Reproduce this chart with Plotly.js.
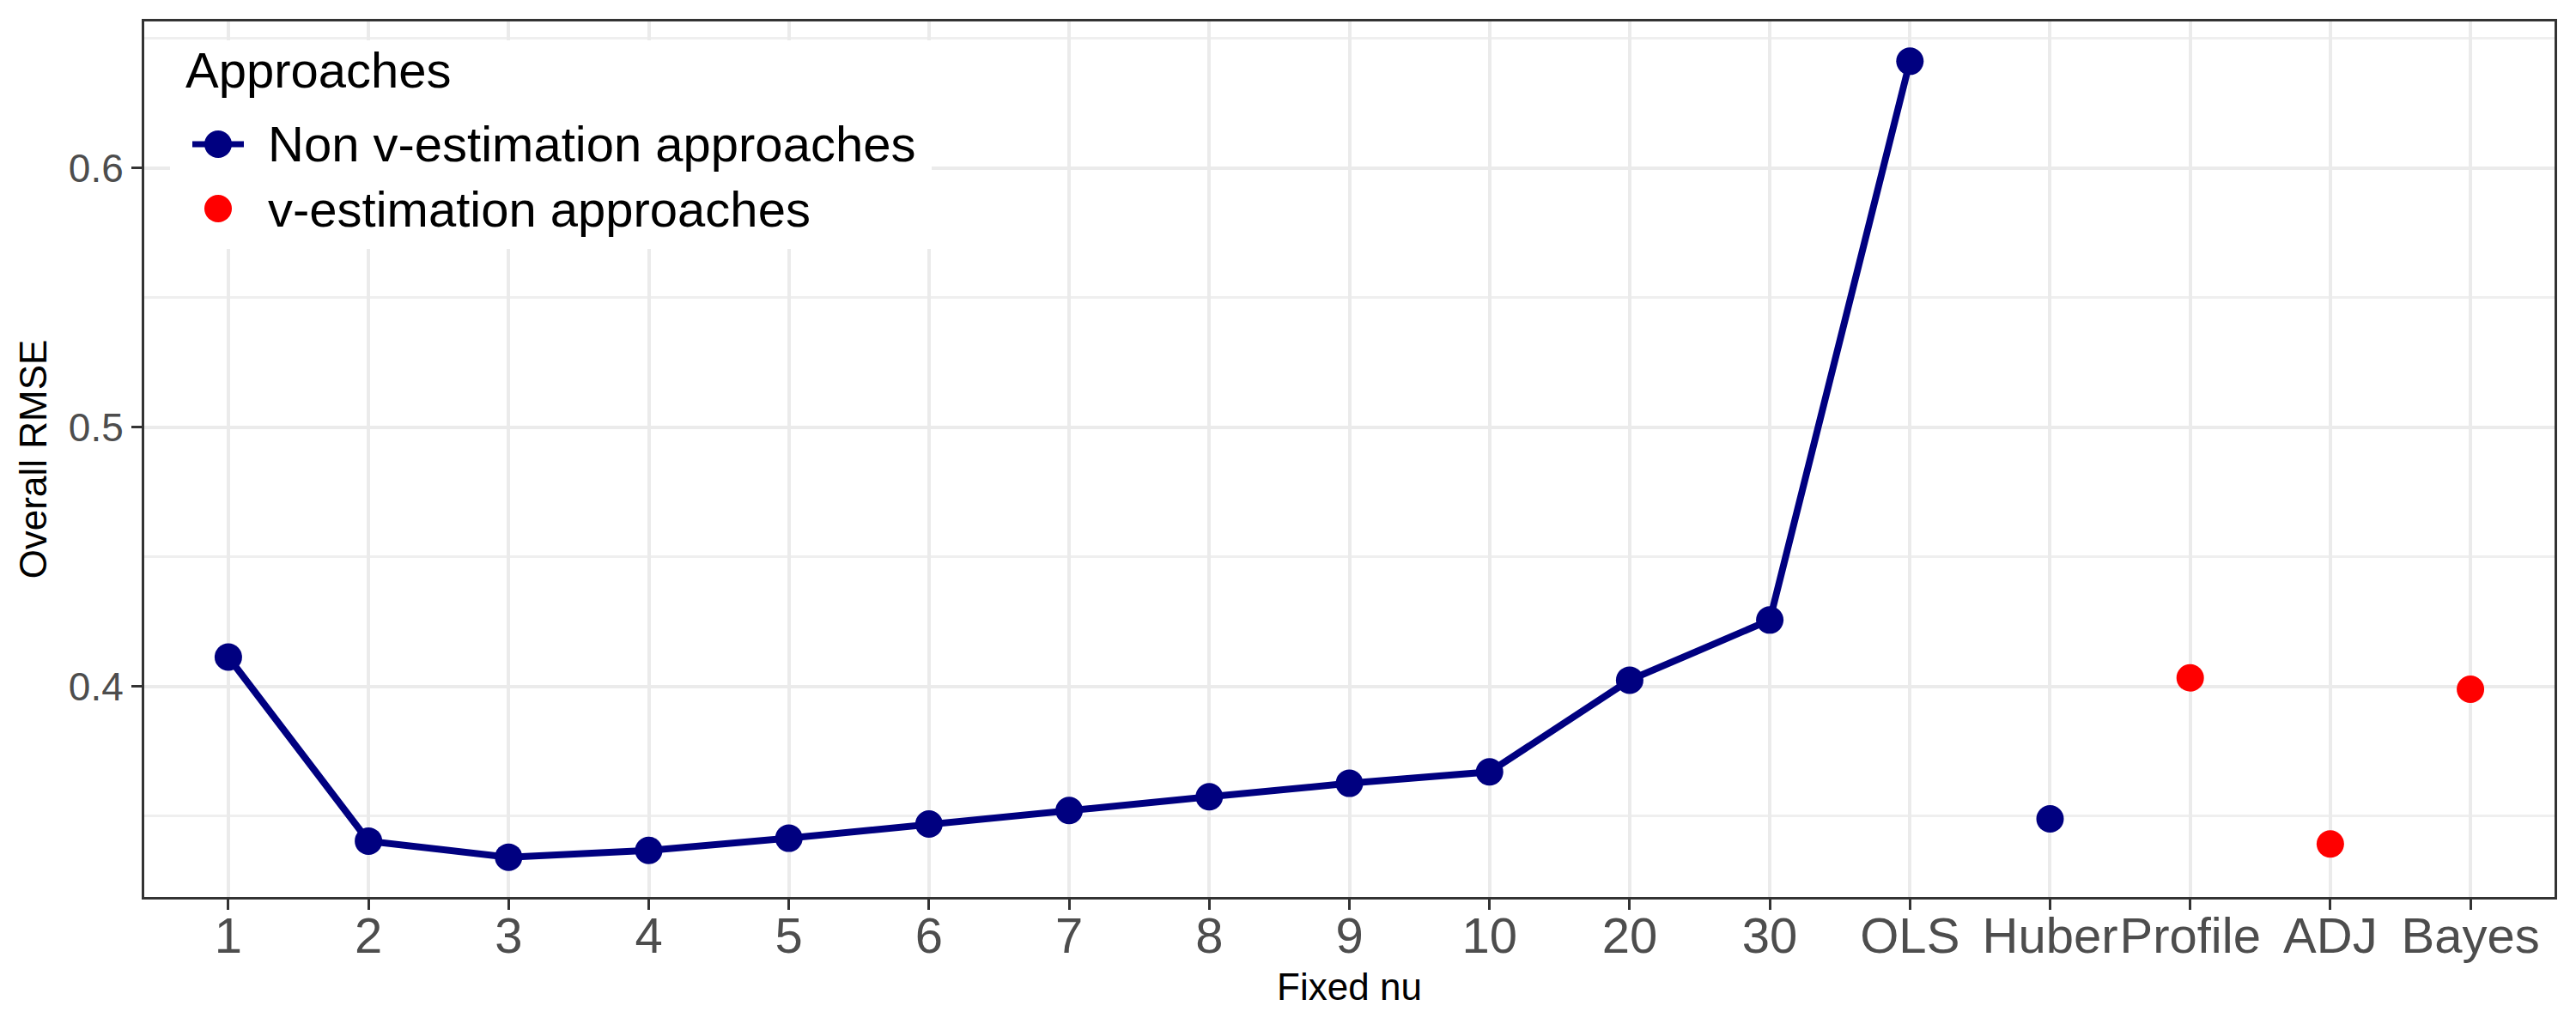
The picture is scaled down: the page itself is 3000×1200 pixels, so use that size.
<!DOCTYPE html>
<html>
<head>
<meta charset="utf-8">
<script src="https://cdn.plot.ly/plotly-3.0.1.min.js"></script>
<style>html,body{margin:0;padding:0;background:#fff;}#chart{width:3000px;height:1200px;}</style>
</head>
<body>
<div id="chart"></div>
<script>
// Category labels on the x axis
const categories = ['1','2','3','4','5','6','7','8','9','10','20','30','OLS','Huber','Profile','ADJ','Bayes'];

// Non v-estimation approaches: fixed nu values (connected) plus OLS
const fixedNuCats = ['1','2','3','4','5','6','7','8','9','10','20','30','OLS'];
const fixedNuRMSE = [0.4113, 0.3403, 0.3341, 0.3367, 0.3414, 0.3469, 0.3521, 0.3574, 0.3626, 0.3670, 0.4024, 0.4256, 0.6412];

// Huber (non v-estimation, not connected)
const huberCats = ['Huber'];
const huberRMSE = [0.3489];

// v-estimation approaches
const vEstCats = ['Profile','ADJ','Bayes'];
const vEstRMSE = [0.4033, 0.3392, 0.3989];

const yTickVals = [0.4, 0.5, 0.6];

const legendTitle = 'Approaches';
const legendNames = ['Non v-estimation approaches', 'v-estimation approaches'];

const NAVY = '#000080';
const RED = '#FF0000';
const FONT = 'Liberation Sans, Arial, Helvetica, sans-serif';

const traces = [
  {
    x: fixedNuCats, y: fixedNuRMSE, type: 'scatter', mode: 'lines+markers',
    name: legendNames[0], legendgroup: 'non',
    line: {color: NAVY, width: 8},
    marker: {color: NAVY, size: 32}
  },
  {
    x: huberCats, y: huberRMSE, type: 'scatter', mode: 'markers',
    name: legendNames[0], legendgroup: 'non',
    marker: {color: NAVY, size: 32}
  },
  {
    x: vEstCats, y: vEstRMSE, type: 'scatter', mode: 'markers',
    name: legendNames[1], legendgroup: 'v',
    marker: {color: RED, size: 32}
  }
];

const allY = fixedNuRMSE.concat(huberRMSE, vEstRMSE);
const yMin = Math.min(...allY), yMax = Math.max(...allY);
const pad = (yMax - yMin) * 0.05;

// plot-area geometry (pixels) used to place the drawn legend
const M = {l: 168, r: 25, t: 25, b: 155};
const W = 3000, H = 1200;
const PW = W - M.l - M.r, PH = H - M.t - M.b;
const px = x => (x - M.l) / PW;
const py = y => (H - M.b - y) / PH;

const shapes = [
  // legend background box
  {type: 'rect', xref: 'paper', yref: 'paper', layer: 'above',
   x0: px(198), x1: px(1085), y0: py(290), y1: py(47),
   fillcolor: '#ffffff', line: {width: 0}},
  // legend key 1: line + circle
  {type: 'line', xref: 'paper', yref: 'paper', layer: 'above',
   xsizemode: 'pixel', ysizemode: 'pixel', xanchor: px(254), yanchor: py(168),
   x0: -30, x1: 30, y0: 0, y1: 0, line: {color: NAVY, width: 7}},
  {type: 'circle', xref: 'paper', yref: 'paper', layer: 'above',
   xsizemode: 'pixel', ysizemode: 'pixel', xanchor: px(254), yanchor: py(168),
   x0: -16, x1: 16, y0: -16, y1: 16, fillcolor: NAVY, line: {width: 0}},
  // legend key 2: circle
  {type: 'circle', xref: 'paper', yref: 'paper', layer: 'above',
   xsizemode: 'pixel', ysizemode: 'pixel', xanchor: px(254), yanchor: py(243),
   x0: -16, x1: 16, y0: -16, y1: 16, fillcolor: RED, line: {width: 0}}
];

const annotations = [
  {xref: 'paper', yref: 'paper', x: px(214), y: py(81), xanchor: 'left', yanchor: 'middle',
   text: legendTitle, showarrow: false, font: {family: FONT, size: 58, color: '#000000'}},
  {xref: 'paper', yref: 'paper', x: px(310), y: py(168), xanchor: 'left', yanchor: 'middle',
   text: legendNames[0], showarrow: false, font: {family: FONT, size: 58, color: '#000000'}},
  {xref: 'paper', yref: 'paper', x: px(310), y: py(243), xanchor: 'left', yanchor: 'middle',
   text: legendNames[1], showarrow: false, font: {family: FONT, size: 58, color: '#000000'}}
];

const layout = {
  width: W, height: H,
  paper_bgcolor: '#ffffff', plot_bgcolor: '#ffffff',
  margin: {l: M.l, r: M.r, t: M.t, b: M.b, pad: 0},
  font: {family: FONT, color: '#000000'},
  showlegend: false,
  shapes: shapes,
  annotations: annotations,
  xaxis: {
    type: 'category', categoryorder: 'array', categoryarray: categories,
    range: [-0.6, categories.length - 1 + 0.6],
    showgrid: true, gridcolor: '#EBEBEB', gridwidth: 4,
    showline: true, mirror: true, linecolor: '#333333', linewidth: 3,
    ticks: 'outside', ticklen: 12, tickwidth: 3, tickcolor: '#333333',
    ticklabelstandoff: -20,
    tickfont: {family: FONT, size: 58, color: '#4D4D4D'},
    title: {text: 'Fixed nu', font: {family: FONT, size: 44, color: '#000000'}, standoff: 14},
    zeroline: false, automargin: false
  },
  yaxis: {
    range: [yMin - pad, yMax + pad],
    tickvals: yTickVals, ticktext: yTickVals.map(v => v.toFixed(1)),
    showgrid: true, gridcolor: '#EBEBEB', gridwidth: 4,
    minor: {dtick: 0.05, tick0: 0, showgrid: true, gridcolor: '#EFEFEF', gridwidth: 3, ticks: ''},
    showline: true, mirror: true, linecolor: '#333333', linewidth: 3,
    ticks: 'outside', ticklen: 12, tickwidth: 3, tickcolor: '#333333',
    tickfont: {family: FONT, size: 46, color: '#4D4D4D'},
    title: {text: 'Overall RMSE', font: {family: FONT, size: 44, color: '#000000'}, standoff: 12},
    zeroline: false, automargin: false
  }
};

Plotly.newPlot('chart', traces, layout, {staticPlot: true, displayModeBar: false});
</script>
</body>
</html>
